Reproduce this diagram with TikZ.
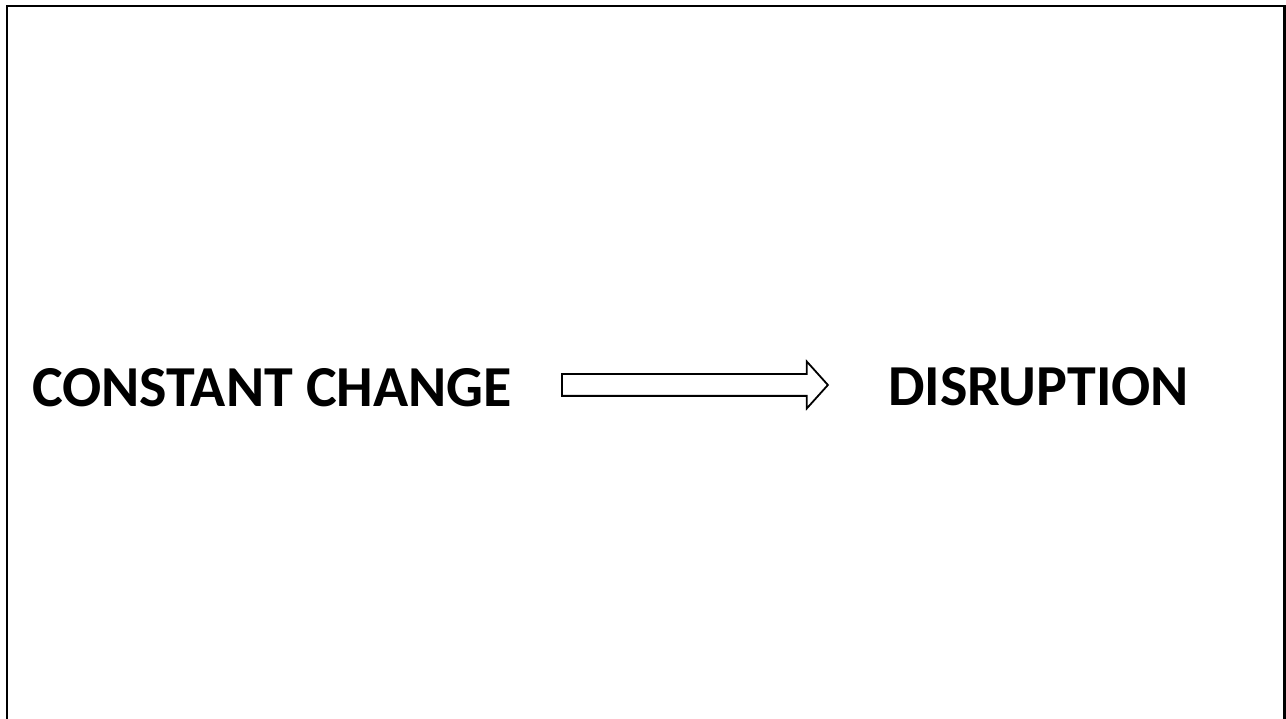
\documentclass[tikz,border=0pt]{standalone}
\usepackage{fontspec}
\setmainfont{Carlito}
\usepackage{tikz}
\usetikzlibrary{shapes}
\usetikzlibrary{positioning}

\begin{document}
\begin{tikzpicture}[x=1pt,y=1pt,word/.style={anchor=base west,inner sep=0pt,font=\fontsize{58}{60}\selectfont\bfseries},blockarrow/.style={single arrow,draw,line width=1.8pt,inner sep=0pt,minimum height=266pt,single arrow head extend=12.5pt,single arrow tip angle=96,text height=20pt,text depth=0pt,text width=0pt}]
            \useasboundingbox (0,0) rectangle (1286,719);
            \draw[line width=2.6pt] (7,-2) -- (7,713) -- (1284.5,713) -- (1284.5,-2);
            \node[word] (cc) at (32,312) {CONSTANT CHANGE};
            \node[word] (dis) at (888,313) {DISRUPTION};
            \node[blockarrow] (arr) at (690,334) {};
          \end{tikzpicture}
\end{document}
